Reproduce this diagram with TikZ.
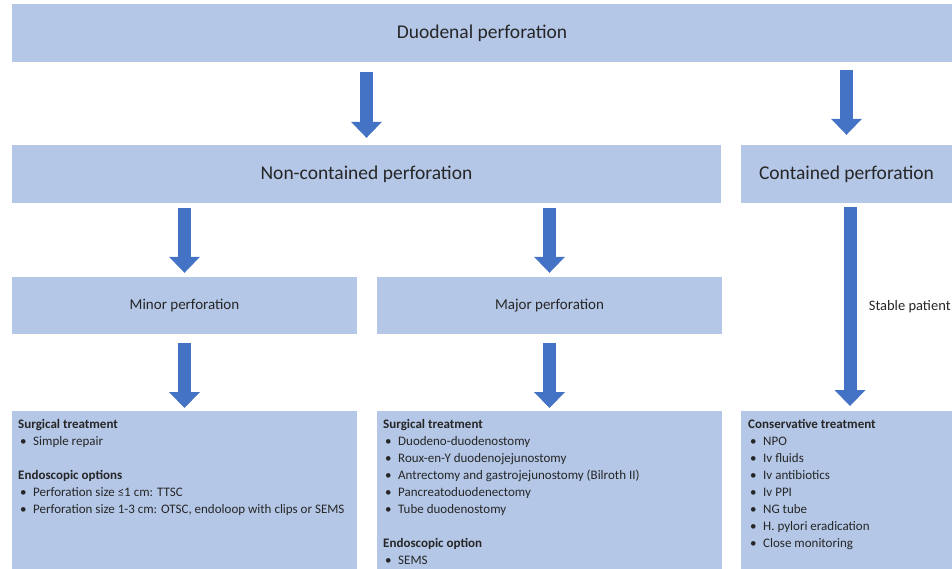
\documentclass[tikz,border=0pt]{standalone}
\usepackage{fontspec}
\setmainfont{Carlito}
\usetikzlibrary{arrows.meta, positioning, calc}
\definecolor{boxblue}{HTML}{B4C7E7}
\definecolor{arrowblue}{HTML}{4472C4}
\definecolor{txtgray}{HTML}{262626}
\newcommand{\bul}{\makebox[15pt][l]{\hspace{2pt}\textbullet}}

\begin{document}
\begin{tikzpicture}[x=1pt,y=-1pt,
    box/.style={fill=boxblue, draw=none, text=txtgray, inner sep=0pt},
    listtext/.style={anchor=north west, align=left, inner sep=0pt, text=txtgray, font=\fontsize{13}{17}\selectfont},
    bigarrow/.style={draw=arrowblue, line width=13pt, -{Triangle[width=31pt,length=16pt,line width=0pt]}}
  ]
  \useasboundingbox (0,0) rectangle (952,569);

  \node[box, minimum width=940pt, minimum height=58pt, font=\fontsize{19.5}{23}\selectfont] (duo) at (482,33) {Duodenal perforation};
  \node[box, minimum width=709pt, minimum height=58pt, font=\fontsize{19.5}{23}\selectfont] (noncont) at (366.5,174) {Non-contained perforation};
  \node[box, minimum width=211pt, minimum height=58pt, font=\fontsize{19.5}{23}\selectfont] (cont) at (846.5,174) {Contained perforation};
  \node[box, minimum width=345pt, minimum height=57pt, font=\fontsize{15}{18}\selectfont] (minor) at (184.5,305.5) {Minor perforation};
  \node[box, minimum width=345pt, minimum height=57pt, font=\fontsize{15}{18}\selectfont] (major) at (549.5,305.5) {Major perforation};

  % treatment panels
  \node[box, anchor=north west, minimum width=345pt, minimum height=158pt] (minorT) at (12,411) {};
  \node[box, anchor=north west, minimum width=345pt, minimum height=158pt] (majorT) at (377,411) {};
  \node[box, anchor=north west, minimum width=211pt, minimum height=158pt] (contT) at (741,411) {};

  \node[listtext] (minorTxt) at ([shift={(6,8)}]minorT.north west) {%
    \textbf{Surgical treatment}\\
    \bul Simple repair\\[17pt]
    \textbf{Endoscopic options}\\
    \bul Perforation size ≤1 cm: TTSC\\
    \bul Perforation size 1-3 cm: OTSC, endoloop with clips or SEMS};
  \node[listtext] (majorTxt) at ([shift={(6,8)}]majorT.north west) {%
    \textbf{Surgical treatment}\\
    \bul Duodeno-duodenostomy\\
    \bul Roux-en-Y duodenojejunostomy\\
    \bul Antrectomy and gastrojejunostomy (Bilroth II)\\
    \bul Pancreatoduodenectomy\\
    \bul Tube duodenostomy\\[17pt]
    \textbf{Endoscopic option}\\
    \bul SEMS};
  \node[listtext] (contTxt) at ([shift={(7,8)}]contT.north west) {%
    \textbf{Conservative treatment}\\
    \bul NPO\\
    \bul Iv fluids\\
    \bul Iv antibiotics\\
    \bul Iv PPI\\
    \bul NG tube\\
    \bul H. pylori eradication\\
    \bul Close monitoring};

  % block arrows
  \draw[bigarrow, shorten <=10pt, shorten >=7pt] (duo.south -| noncont) -- (noncont.north);
  \draw[bigarrow, shorten <=8pt, shorten >=10pt] (duo.south -| cont) -- (cont.north);
  \draw[bigarrow, shorten <=5pt, shorten >=4pt] (noncont.south -| minor) -- (minor.north);
  \draw[bigarrow, shorten <=5pt, shorten >=4pt] (noncont.south -| major) -- (major.north);
  \draw[bigarrow, shorten <=9pt, shorten >=3pt] (minor.south) -- (minor.south |- minorT.north);
  \draw[bigarrow, shorten <=9pt, shorten >=3pt] (major.south) -- (major.south |- majorT.north);
  \draw[bigarrow, shorten <=4pt, shorten >=5pt] ($(cont.south)+(3.5,0)$) coordinate (c1) -- (c1 |- contT.north)
    node[midway, right=9pt, text=txtgray, font=\fontsize{14.5}{17}\selectfont] (stable) {Stable patient};
\end{tikzpicture}
\end{document}
